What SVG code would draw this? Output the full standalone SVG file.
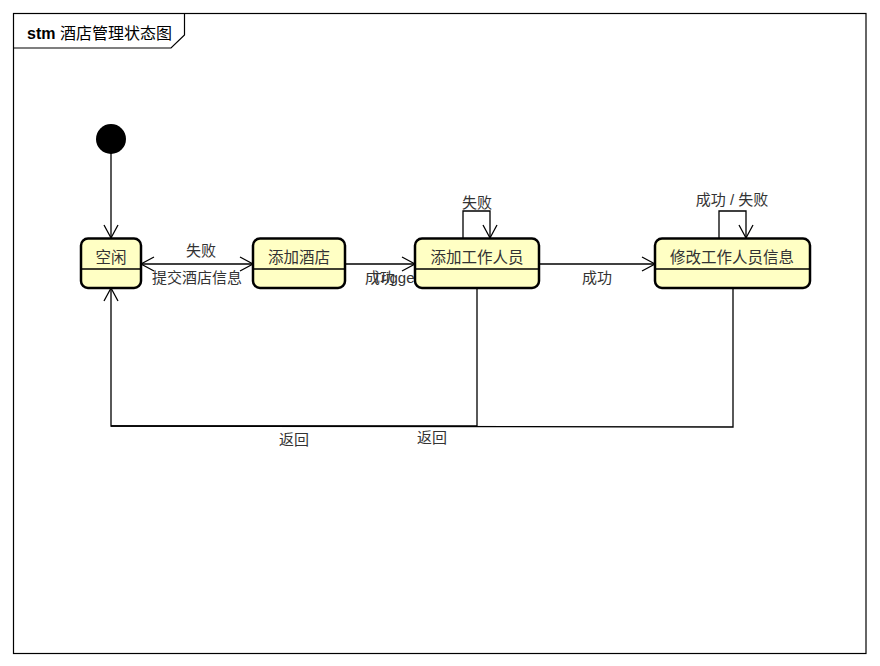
<svg xmlns="http://www.w3.org/2000/svg" width="880" height="666" viewBox="0 0 880 666">
  <defs>
    <marker id="open" viewBox="0 0 16 16" refX="14" refY="8" markerWidth="16" markerHeight="16" markerUnits="userSpaceOnUse" orient="auto-start-reverse">
      <path d="M1,1 L14,8 L1,15" fill="none" stroke="#000" stroke-width="1.3"/>
    </marker>
  </defs>
  <style>
    .frame { fill: #fff; stroke: #000; stroke-width: 1.2; }
    .state { fill: #FFFFC4; stroke: #000; stroke-width: 2.5; }
    .div { stroke: #000; stroke-width: 1.5; }
    .edge { fill: none; stroke: #000; stroke-width: 1.3; }
    .name { font-family: "Liberation Sans", "Noto Sans CJK SC", sans-serif; font-size: 15.5px; fill: #333; text-anchor: middle; }
    .lbl { font-family: "Liberation Sans", "Noto Sans CJK SC", sans-serif; font-size: 15px; fill: #333; text-anchor: middle; }
    .title { font-family: "Liberation Sans", "Noto Sans CJK SC", sans-serif; font-size: 16px; fill: #000; }
  </style>

  <rect width="880" height="666" fill="#fff"/>

  <!-- diagram frame with title tab -->
  <g id="frame">
    <rect class="frame" x="13.5" y="13.5" width="852.5" height="640"/>
    <path d="M13.5,48 L171,48 L184.5,35 L184.5,13.5" fill="none" stroke="#000" stroke-width="1.2"/>
    <text class="title" x="27" y="39"><tspan font-weight="bold">stm</tspan> 酒店管理状态图</text>
  </g>

  <!-- transitions -->
  <g id="connectors">
    <path class="edge" d="M111,153 L111,238" marker-end="url(#open)"/>
    <path class="edge" d="M141,264 L253,264" marker-start="url(#open)" marker-end="url(#open)"/>
    <path class="edge" d="M345,264 L415,264" marker-end="url(#open)"/>
    <path class="edge" d="M539,264 L655,264" marker-end="url(#open)"/>
    <path class="edge" d="M463,238 L463,211 L490,211 L490,238" marker-end="url(#open)"/>
    <path class="edge" d="M719,238 L719,211 L746,211 L746,238" marker-end="url(#open)"/>
    <path class="edge" d="M477,288 L477,426 L111,426 L111,288" marker-end="url(#open)"/>
    <path class="edge" d="M733,288 L733,427 L111,426"/>

    <text class="lbl" x="201" y="256">失败</text>
    <text class="lbl" x="197" y="283">提交酒店信息</text>
    <text class="lbl" x="380" y="283">成功</text>
    <text class="lbl" x="396" y="283">Trigger</text>
    <text class="lbl" x="597" y="283">成功</text>
    <text class="lbl" x="477" y="208">失败</text>
    <text class="lbl" x="732" y="205">成功 / 失败</text>
    <text class="lbl" x="294" y="445">返回</text>
    <text class="lbl" x="432" y="443">返回</text>
  </g>

  <!-- initial pseudostate -->
  <g id="initial">
    <circle cx="111" cy="139" r="15" fill="#000"/>
  </g>

  <g id="idle">
    <rect class="state" x="81" y="238.5" width="60" height="49.5" rx="7"/>
    <line class="div" x1="82" y1="269" x2="140" y2="269"/>
    <text class="name" x="111" y="263">空闲</text>
  </g>

  <g id="addHotel">
    <rect class="state" x="253" y="238.5" width="92" height="49.5" rx="7"/>
    <line class="div" x1="254" y1="269" x2="344" y2="269"/>
    <text class="name" x="299" y="263">添加酒店</text>
  </g>

  <g id="addStaff">
    <rect class="state" x="415" y="238.5" width="124" height="49.5" rx="7"/>
    <line class="div" x1="416" y1="269" x2="538" y2="269"/>
    <text class="name" x="477" y="263">添加工作人员</text>
  </g>

  <g id="editStaff">
    <rect class="state" x="655" y="238.5" width="155" height="49.5" rx="7"/>
    <line class="div" x1="656" y1="269" x2="809" y2="269"/>
    <text class="name" x="732" y="263">修改工作人员信息</text>
  </g>
</svg>
